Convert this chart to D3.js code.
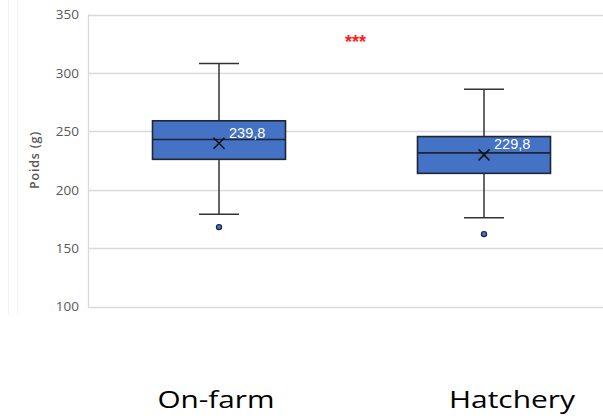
<!DOCTYPE html>
<html>
<head>
<meta charset="utf-8">
<script src="https://cdn.jsdelivr.net/npm/d3@7"></script>
<style>
  html, body { margin: 0; padding: 0; background: #fff; }
  svg { display: block; }
</style>
</head>
<body>
<svg id="chart" width="603" height="418"></svg>
<script>
// Groups and their box-plot statistics (weight in grams)
const categories = ["On-farm", "Hatchery"];
const whiskerLow = [179, 176];
const q1 = [226, 214];
const median = [243, 231.5];
const q3 = [259, 245.5];
const whiskerHigh = [308, 286];
const means = [239.8, 229.8];
const meanLabels = ["239,8", "229,8"];
const outliers = [[168], [162]];
const yTicks = [100, 150, 200, 250, 300, 350];
const significance = "***";

const svg = d3.select("#chart");
const plotLeft = 88, plotRight = 603;

const y = d3.scaleLinear().domain([100, 350]).range([306.5, 14.5]);
const x = d3.scaleBand().domain(categories).range([87, 617]);
// category captions sit on their own band layout below the plot
const xLabel = d3.scaleBand().domain(categories).range([68, 660]);
const boxW = 133, capW = 40;

// faint frame lines at the far left
[8.5, 17.5].forEach(xx => {
  svg.append("line").attr("x1", xx).attr("x2", xx).attr("y1", 0).attr("y2", 315)
    .attr("stroke", "#f2f2f2").attr("stroke-width", 1);
});

// horizontal gridlines
svg.append("g").selectAll("line").data(yTicks).join("line")
  .attr("x1", plotLeft).attr("x2", plotRight)
  .attr("y1", d => Math.round(y(d)) + 0.5).attr("y2", d => Math.round(y(d)) + 0.5)
  .attr("stroke", "#d9d9d9").attr("stroke-width", 1.3);

// left plot border
svg.append("line").attr("x1", plotLeft + 0.5).attr("x2", plotLeft + 0.5)
  .attr("y1", y(350)).attr("y2", y(100) + 0.5)
  .attr("stroke", "#d9d9d9").attr("stroke-width", 1.3);

// y axis tick labels
const yAxis = d3.axisLeft(y).tickValues(yTicks).tickSize(0).tickPadding(0);
const ga = svg.append("g").attr("transform", `translate(79,0)`).call(yAxis);
ga.select(".domain").remove();
ga.selectAll("text")
  .attr("font-family", "'Open Sans', sans-serif")
  .attr("font-size", 13.5)
  .attr("fill", "#595959");

// y axis title
svg.append("text")
  .attr("transform", `translate(39,160) rotate(-90)`)
  .attr("text-anchor", "middle")
  .attr("font-family", "'Open Sans', sans-serif")
  .attr("font-size", 12.5)
  .attr("font-weight", 600)
  .attr("letter-spacing", 0.8)
  .attr("fill", "#595959")
  .text("Poids (g)");

const stroke = "#1f2533";
const cx = i => x(categories[i]) + x.bandwidth() / 2 - 0.5;

categories.forEach((c, i) => {
  const g = svg.append("g");
  const X = cx(i);
  // whiskers
  g.append("line").attr("x1", X).attr("x2", X).attr("y1", y(whiskerHigh[i])).attr("y2", y(q3[i]))
    .attr("stroke", "#333").attr("stroke-width", 1.5);
  g.append("line").attr("x1", X).attr("x2", X).attr("y1", y(q1[i])).attr("y2", y(whiskerLow[i]))
    .attr("stroke", "#333").attr("stroke-width", 1.5);
  [whiskerHigh[i], whiskerLow[i]].forEach(v => {
    g.append("line").attr("x1", X - capW / 2).attr("x2", X + capW / 2)
      .attr("y1", y(v)).attr("y2", y(v))
      .attr("stroke", "#333").attr("stroke-width", 1.6);
  });
  // box
  g.append("rect").attr("x", X - boxW / 2).attr("y", y(q3[i]))
    .attr("width", boxW).attr("height", y(q1[i]) - y(q3[i]))
    .attr("fill", "#4472c4").attr("stroke", stroke).attr("stroke-width", 1.6);
  // median
  g.append("line").attr("x1", X - boxW / 2).attr("x2", X + boxW / 2)
    .attr("y1", y(median[i])).attr("y2", y(median[i]))
    .attr("stroke", stroke).attr("stroke-width", 1.6);
  // mean marker
  const my = y(means[i]), s = 5.5;
  g.append("path")
    .attr("d", `M${X - s},${my - s}L${X + s},${my + s}M${X - s},${my + s}L${X + s},${my - s}`)
    .attr("stroke", "#111").attr("stroke-width", 1.5).attr("fill", "none");
  // mean label
  g.append("text").attr("x", X + 10).attr("y", my - 5.5)
    .attr("font-family", "'Liberation Sans', Arial, sans-serif")
    .attr("font-size", 14.5)
    .attr("fill", "#ffffff")
    .text(meanLabels[i]);
  // outliers
  outliers[i].forEach(v => {
    g.append("circle").attr("cx", X).attr("cy", y(v)).attr("r", 2.6)
      .attr("fill", "#4472c4").attr("stroke", stroke).attr("stroke-width", 1.2);
  });
});

// category captions
svg.append("g").selectAll("text").data(categories).join("text")
  .attr("x", d => xLabel(d) + xLabel.bandwidth() / 2)
  .attr("y", 407.5)
  .attr("text-anchor", "middle")
  .attr("font-family", "'Open Sans', sans-serif")
  .attr("font-size", 24)
  .attr("fill", "#000")
  .attr("textLength", d => d === "On-farm" ? 117 : 126)
  .attr("lengthAdjust", "spacingAndGlyphs")
  .text(d => d);

// significance marker
svg.append("text").attr("x", 355.5).attr("y", 47.5)
  .attr("text-anchor", "middle")
  .attr("font-family", "'Liberation Sans', Arial, sans-serif")
  .attr("font-size", 18)
  .attr("font-weight", "bold")
  .attr("fill", "#ff2020")
  .text(significance);
</script>
</body>
</html>
